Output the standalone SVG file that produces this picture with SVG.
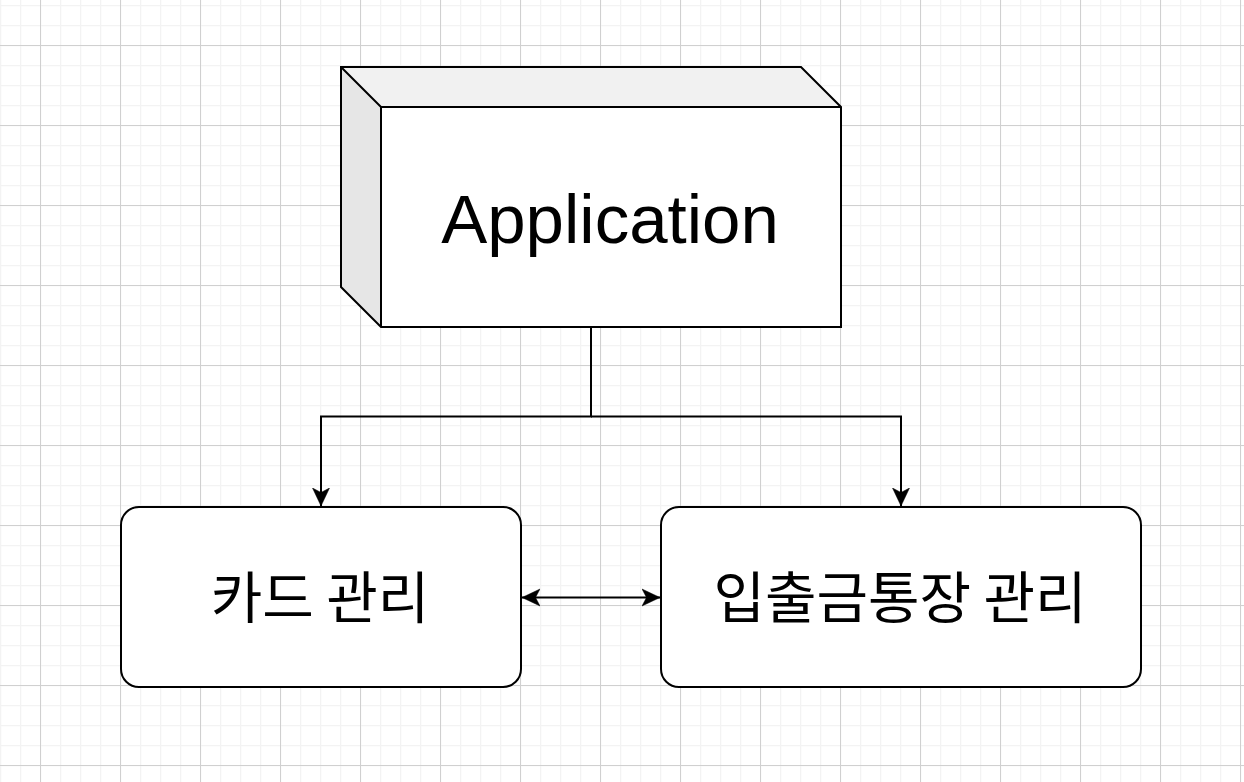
<svg xmlns="http://www.w3.org/2000/svg" width="1244" height="782" viewBox="0 0 1244 782">
  <defs>
    <pattern id="minor" patternUnits="userSpaceOnUse" x="0" y="5" width="20" height="20">
      <path d="M 0.5 0 V 20 M 0 0.5 H 20" fill="none" stroke="#f3f3f3" stroke-width="1.5"/>
    </pattern>
    <pattern id="major" patternUnits="userSpaceOnUse" x="40" y="45" width="80" height="80">
      <path d="M 0.5 0 V 80 M 0 0.5 H 80" fill="none" stroke="#d0d0d0" stroke-width="1"/>
    </pattern>
    <marker id="arrow" markerUnits="userSpaceOnUse" viewBox="0 0 20 20" markerWidth="20" markerHeight="20" refX="18" refY="10" orient="auto-start-reverse">
      <path d="M 0 1.5 L 18 10 L 0 18.5 L 4.5 10 Z" fill="#000" stroke="#000" stroke-width="0.5" stroke-linejoin="miter"/>
    </marker>
    <style>
      .edge { fill: none; stroke: #000; stroke-width: 2; }
      .face { stroke: none; }
      .outline { fill: none; stroke: #000; stroke-width: 2; stroke-linejoin: miter; }
      .box { fill: #fff; stroke: #000; stroke-width: 2; }
      .latin { font-family: "Liberation Sans", Arial, Helvetica, sans-serif; fill: #000; text-anchor: middle; }
      .kr { font-family: "Noto Sans CJK KR", "Noto Sans", sans-serif; fill: #000; text-anchor: middle; }
    </style>
  </defs>

  <rect x="0" y="0" width="1244" height="782" fill="#fff"/>
  <rect x="0" y="0" width="1244" height="782" fill="url(#minor)"/>
  <rect x="0" y="0" width="1244" height="782" fill="url(#major)"/>

  <g id="connectors">
    <path class="edge" d="M 591 327 V 416.5 H 321 V 506" marker-end="url(#arrow)"/>
    <path class="edge" d="M 591 416.5 H 901 V 506" marker-end="url(#arrow)"/>
    <path class="edge" d="M 522 597.5 H 660" marker-start="url(#arrow)" marker-end="url(#arrow)"/>
  </g>

  <g id="node-application">
    <polygon class="face" points="341,67 801,67 841,107 381,107" fill="#f1f1f1"/>
    <polygon class="face" points="341,67 381,107 381,327 341,287" fill="#e6e6e6"/>
    <rect class="face" x="381" y="107" width="460" height="220" fill="#fff"/>
    <path class="outline" d="M 341 67 H 801 L 841 107 V 327 H 381 L 341 287 Z M 341 67 L 381 107 H 841 M 381 107 V 327"/>
    <text class="latin" x="610" y="243" font-size="69">Application</text>
  </g>

  <g id="node-card">
    <rect class="box" x="121" y="507" width="400" height="180" rx="18" ry="18"/>
    <text class="kr" x="320" y="618" font-size="56">카드 관리</text>
  </g>

  <g id="node-account">
    <rect class="box" x="661" y="507" width="480" height="180" rx="18" ry="18"/>
    <text class="kr" x="900" y="618" font-size="56">입출금통장 관리</text>
  </g>
</svg>
